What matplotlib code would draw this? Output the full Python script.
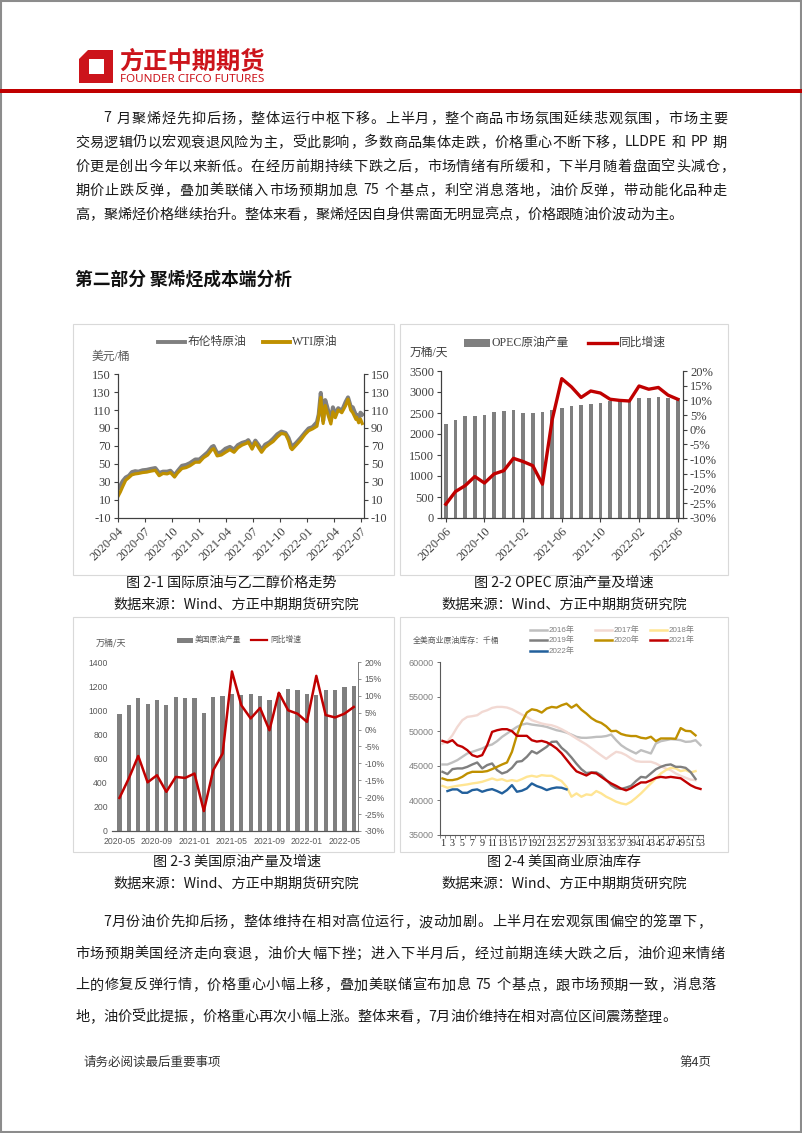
import matplotlib
matplotlib.use('Agg')
import matplotlib.pyplot as plt
import matplotlib.dates as mdates
from matplotlib import font_manager
from matplotlib.patches import Rectangle, Polygon
from matplotlib.ticker import FuncFormatter
import numpy as np
import pandas as pd

W, H = 802, 1133

installed = {f.name for f in font_manager.fontManager.ttflist}

CJK = ['Noto Sans CJK SC', 'DejaVu Sans']
SERIF = ['Liberation Serif', 'Noto Sans CJK SC', 'DejaVu Sans']
if 'Liberation Sans Narrow' in installed:
    NARROW = ['Liberation Sans Narrow', 'Noto Sans CJK SC', 'DejaVu Sans']
else:
    NARROW = ['Liberation Sans', 'Noto Sans CJK SC', 'DejaVu Sans']

plt.rcParams['font.family'] = SERIF
plt.rcParams['axes.unicode_minus'] = False

# ---------------- text ----------------
para1 = [
    "7 月聚烯烃先抑后扬，整体运行中枢下移。上半月，整个商品市场氛围延续悲观氛围，市场主要",
    "交易逻辑仍以宏观衰退风险为主，受此影响，多数商品集体走跌，价格重心不断下移，LLDPE 和 PP 期",
    "价更是创出今年以来新低。在经历前期持续下跌之后，市场情绪有所缓和，下半月随着盘面空头减仓，",
    "期价止跌反弹，叠加美联储入市场预期加息 75 个基点，利空消息落地，油价反弹，带动能化品种走",
    "高，聚烯烃价格继续抬升。整体来看，聚烯烃因自身供需面无明显亮点，价格跟随油价波动为主。",
]
para2 = [
    "7月份油价先抑后扬，整体维持在相对高位运行，波动加剧。上半月在宏观氛围偏空的笼罩下，",
    "市场预期美国经济走向衰退，油价大幅下挫；进入下半月后，经过前期连续大跌之后，油价迎来情绪",
    "上的修复反弹行情，价格重心小幅上移，叠加美联储宣布加息 75 个基点，跟市场预期一致，消息落",
    "地，油价受此提振，价格重心再次小幅上涨。整体来看，7月油价维持在相对高位区间震荡整理。",
]
heading = "第二部分 聚烯烃成本端分析"
captions = ["图 2-1 国际原油与乙二醇价格走势", "图 2-2 OPEC 原油产量及增速",
            "图 2-3 美国原油产量及增速", "图 2-4 美国商业原油库存"]
source = "数据来源：Wind、方正中期期货研究院"

# ---------------- chart 1: Brent / WTI ----------------
oil_dates = ['2020-04-22', '2020-04-30', '2020-05-08', '2020-05-18', '2020-05-29', '2020-06-08',
             '2020-06-19', '2020-06-30', '2020-07-14', '2020-07-28', '2020-08-10', '2020-08-26',
             '2020-09-08', '2020-09-21', '2020-10-05', '2020-10-16', '2020-10-30', '2020-11-09',
             '2020-11-24', '2020-12-08', '2020-12-21', '2021-01-08', '2021-01-22', '2021-02-05',
             '2021-02-19', '2021-03-05', '2021-03-11', '2021-03-23', '2021-04-06', '2021-04-20',
             '2021-05-05', '2021-05-19', '2021-06-01', '2021-06-15', '2021-06-30', '2021-07-06',
             '2021-07-19', '2021-07-30', '2021-08-10', '2021-08-20', '2021-09-01', '2021-09-15',
             '2021-09-28', '2021-10-12', '2021-10-26', '2021-11-09', '2021-11-19', '2021-11-26',
             '2021-12-01', '2021-12-15', '2021-12-30', '2022-01-14', '2022-01-26', '2022-02-08',
             '2022-02-23', '2022-03-01', '2022-03-08', '2022-03-16', '2022-03-23', '2022-03-30',
             '2022-04-11', '2022-04-18', '2022-04-26', '2022-05-06', '2022-05-18', '2022-05-31',
             '2022-06-08', '2022-06-17', '2022-06-24', '2022-07-05', '2022-07-07', '2022-07-14',
             '2022-07-20', '2022-07-26']
brent = [22, 26, 31, 35, 37, 41, 42, 41.5, 43, 43.5,
         44.5, 45.5, 40, 41.5, 41.5, 42.5, 37.5, 42, 48, 49,
         51, 55, 55, 59, 63, 69, 70, 62, 63, 67,
         69, 66, 71, 73.5, 75, 76.5, 69, 76, 71, 65.5,
         71.5, 74, 78, 83, 86, 84.5, 79, 72.5, 69, 73.5,
         79, 85, 89.5, 91, 96.5, 105, 129, 98, 121, 113,
         98.5, 113, 105, 112, 109, 119, 124, 114, 113, 104,
         104.5, 99, 107, 105]
wti = [14, 19, 25, 32, 35, 38, 39, 39.5, 40.5, 41,
       42, 43, 37, 39.5, 39, 40.5, 35.5, 40, 45, 46,
       48, 52, 52, 57, 60, 66, 67, 59, 60, 63,
       66, 63, 68, 71, 73, 74.5, 66.5, 74, 68, 63,
       68.5, 72, 75, 80, 84, 83, 76, 68, 66, 71,
       76.5, 83, 87, 89, 92, 103, 124, 95, 115, 107,
       94.5, 108, 101.5, 110, 107, 115, 122, 110, 107, 99.5,
       102, 95.8, 100, 95]

# ---------------- chart 2: OPEC ----------------
opec_months = list(pd.date_range('2020-06', periods=25, freq='MS').strftime('%Y-%m'))
opec_prod = [2236, 2330, 2425, 2418, 2450, 2512, 2544, 2560, 2497, 2505, 2520, 2567, 2615,
             2662, 2686, 2725, 2750, 2789, 2805, 2820, 2860, 2852, 2876, 2852, 2860]
opec_yoy = [-25.3, -21.0, -19.0, -15.9, -18.1, -15.0, -13.9, -9.7, -10.8, -12.2, -18.5, 3.3,
            17.4, 14.6, 11.0, 13.2, 12.5, 10.4, 10.0, 9.8, 14.9, 13.8, 14.4, 11.8, 10.4]

# ---------------- chart 3: US output ----------------
us_months = list(pd.date_range('2020-05', periods=26, freq='MS').strftime('%Y-%m'))
us_prod = [970, 1045, 1100, 1055, 1085, 1045, 1110, 1105, 1105, 980, 1110, 1120, 1135,
           1125, 1135, 1120, 1085, 1145, 1180, 1165, 1135, 1130, 1170, 1165, 1190, 1205]
us_yoy = [-20.2, -14.4, -7.8, -15.6, -13.5, -18.4, -14.0, -14.3, -13.0, -24.1, -12.0, -7.1,
          17.2, 7.2, 3.3, 6.4, -0.2, 10.9, 5.7, 4.7, 2.3, 15.9, 4.3, 3.6, 4.7, 6.7]

# ---------------- chart 4: US commercial stocks (weekly) ----------------
inv_years = ['2016年', '2017年', '2018年', '2019年', '2020年', '2021年', '2022年']
inv_2016 = [45190, 45190, 45480, 45820, 46300, 46780, 47020, 47260, 47500, 47880,
            48080, 48560, 49180, 49660, 50140, 50620, 50960, 51110, 50960, 50860,
            50770, 50620, 50380, 50140, 50000, 49800, 49500, 49180, 49050, 49040,
            49100, 49180, 49200, 49300, 49520, 48700, 47980, 47500, 47120, 46780,
            47260, 47020, 46780, 48220, 48560, 48700, 48850, 48800, 48700, 48460,
            48500, 48700, 47980]
inv_2017 = [48200, 48500, 49420, 50620, 51590, 52070, 52170, 52310, 52790, 53030,
            53370, 53510, 53510, 53420, 53170, 52790, 52400, 52070, 51590, 51350,
            51110, 50960, 50860, 50620, 50290, 49900, 49400, 48940, 48500, 48080,
            47550, 47020, 46500, 46000, 46540, 47020, 46880, 46540, 46060, 45680,
            45580, 45580, 45580, 45340, 44950, 44610, 44370, 43890, 43560, 43270,
            43000, 42930]
inv_2018 = [42100, 41830, 41970, 42110, 42210, 42310, 42450, 42550, 42690, 42930,
            43170, 42930, 43070, 42790, 42930, 42790, 43070, 43410, 43560, 43410,
            43650, 43560, 43560, 43170, 42790, 41970, 40530, 41010, 40530, 40870,
            40770, 41350, 41010, 40530, 40190, 39810, 39570, 39420, 39800, 40380,
            41010, 41730, 42450, 43170, 43890, 44370, 44710, 44620, 44230, 44380,
            44040, 44230]
inv_2019 = [44130, 43800, 44520, 44620, 44620, 44850, 45190, 45480, 44620, 45100,
            45340, 44370, 43890, 44130, 44710, 45580, 45680, 46300, 47120, 46780,
            47260, 47740, 48460, 48500, 47600, 47000, 46200, 45300, 44500, 43950,
            44050, 44050, 43650, 42950, 42200, 41750, 41650, 41850, 42100, 42800,
            43400, 43300, 43900, 44500, 44850, 45100, 45200, 44850, 44850, 44700,
            44100, 43100]
inv_2020 = [43170, 42930, 42930, 43080, 43410, 43890, 44130, 44130, 44130, 44230,
            44520, 44850, 45190, 45480, 47020, 49420, 51350, 52690, 53170, 53030,
            52690, 53270, 53510, 53410, 53750, 53990, 53400, 53850, 53100, 52550,
            51900, 51450, 51200, 50700, 50000, 50050, 49600, 49400, 49300, 49300,
            49050, 48950, 49200, 48560, 48950, 48950, 48950, 48900, 50450, 50050,
            50000, 49400]
inv_2021 = [48600, 48360, 48700, 47980, 47740, 47260, 46540, 46300, 46540, 47980,
            49900, 50140, 50290, 50290, 50000, 49330, 49330, 49330, 48700, 48500,
            48600, 48400, 48000, 47500, 46800, 45900, 45000, 44200, 43900, 43600,
            44000, 43900, 43400, 42900, 42450, 42100, 41700, 41450, 41750, 42200,
            42600, 42600, 42900, 43250, 43400, 43300, 43400, 43300, 43200, 42700,
            42200, 41850, 41650]
inv_2022 = [None, 41350, 41590, 41590, 41100, 41100, 41490, 41590, 41250, 41490,
            41630, 41350, 41010, 41490, 42210, 41250, 41400, 41730, 42450, 42070,
            41830, 41490, 41730, 41870, 41830, 41590]
inv_series = [inv_2016, inv_2017, inv_2018, inv_2019, inv_2020, inv_2021, inv_2022]
inv_colors = ['#bfbfbf', '#f2d9d3', '#ffe593', '#7f7f7f', '#bf9000', '#c00000', '#22609c']
week_labels = [str(w) for w in range(1, 54, 2)]


def rect(l, t, r, b):
    return [l / W, 1 - b / H, (r - l) / W, (b - t) / H]


fig = plt.figure(figsize=(W / 100, H / 100), dpi=100)
bg = fig.add_axes([0, 0, 1, 1])
bg.set_xlim(0, W)
bg.set_ylim(H, 0)
bg.axis('off')
renderer = fig.canvas.get_renderer()

# page frame
bg.add_patch(Rectangle((0.8, 0.8), W - 1.6, H - 1.6, fill=False, ec='#8c8c8c', lw=1.5))

# logo
red = '#cc141b'
bg.add_patch(Polygon([(88, 50), (113, 50), (113, 83), (79, 83), (79, 59)], color=red, lw=0))
bg.add_patch(Polygon([(89, 59), (104, 59), (104, 74), (89, 74)], color='white', lw=0))
bg.text(119, 61, "方正中期期货", fontsize=17.5, weight='bold', color=red, family=CJK,
        va='center', ha='left')
bg.text(120, 79, "FOUNDER CIFCO FUTURES", fontsize=8.4, weight='bold', color=red,
        family=['Noto Sans', 'DejaVu Sans'], va='center', ha='left')
bg.add_patch(Rectangle((0, 88.5), W, 4.5, color='#c00000', lw=0))


def split_tokens(s):
    out, buf = [], ''
    for ch in s:
        if ch.isascii() and ch != ' ':
            buf += ch
        else:
            if buf:
                out.append(buf)
                buf = ''
            out.append(ch)
    if buf:
        out.append(buf)
    return out


def text_line(s, x0, x1, y, size, justify=True):
    toks = split_tokens(s)
    arts, widths = [], []
    for t in toks:
        if t == ' ':
            arts.append(None)
            widths.append(size * 100 / 72 * 0.3)
            continue
        a = bg.text(0, y, t, fontsize=size, family=CJK, color='#1a1a1a', va='center', ha='left')
        widths.append(a.get_window_extent(renderer).width)
        arts.append(a)
    gap = (x1 - x0 - sum(widths)) / (len(toks) - 1) if justify else 0.0
    x = x0
    for a, w in zip(arts, widths):
        if a is not None:
            a.set_x(x)
        x += w + gap


body_size = 10.2
p1_ends = [727, 727, 734, 727, None]
for i, (line, end) in enumerate(zip(para1, p1_ends)):
    x0 = 103 if i == 0 else 75
    text_line(line, x0, end if end else 0, 118.5 + 24 * i, body_size, justify=end is not None)

bg.text(75, 280, heading, fontsize=12.8, weight='bold', family=CJK, va='center', ha='left',
        color='#111111')

p2_ends = [711, 725, 716, None]
for i, (line, end) in enumerate(zip(para2, p2_ends)):
    x0 = 103 if i == 0 else 75
    text_line(line, x0, end if end else 0, 922 + 31.7 * i, body_size, justify=end is not None)

bg.text(84, 1062, "请务必阅读最后重要事项", fontsize=9, family=CJK, va='center', ha='left',
        color='#333333')
bg.text(711, 1062, "第4页", fontsize=9, family=CJK, va='center', ha='right', color='#333333')

# chart boxes
for (l, t, r, b) in [(73, 324, 394, 575), (400, 324, 728, 575), (73, 617, 394, 852), (400, 617, 728, 852)]:
    bg.add_patch(Rectangle((l, t), r - l, b - t, fill=False, ec='#d9d9d9', lw=0.8))

for cx, cy, txt in [(231, 583, captions[0]), (564, 583, captions[1]),
                    (237, 862, captions[2]), (564, 862, captions[3])]:
    bg.text(cx, cy, txt, fontsize=10.2, family=CJK, va='center', ha='center', color='#1a1a1a')
for cx, cy in [(236, 605), (564, 605), (236, 884), (564, 884)]:
    bg.text(cx, cy, source, fontsize=10.2, family=CJK, va='center', ha='center', color='#1a1a1a')

AX = '#404040'

# ---------------- chart 1 ----------------
ax1 = fig.add_axes(rect(118, 374, 364, 518))
d = pd.to_datetime(oil_dates)
ax1.plot(d, brent, color='#7f7f7f', lw=2.9, solid_joinstyle='round')
ax1.plot(d, wti, color='#bf9000', lw=2.3, solid_joinstyle='round')
ax1.set_xlim(pd.Timestamp('2020-04-22'), pd.Timestamp('2022-08-01'))
ax1.set_ylim(-10, 150)
ax1.set_yticks(range(-10, 151, 20))
ax1.set_xticks(pd.date_range('2020-04-22', periods=10, freq=pd.DateOffset(months=3)))
ax1.xaxis.set_major_formatter(mdates.DateFormatter('%Y-%m'))
ax1r = ax1.twinx()
ax1r.set_ylim(-10, 150)
ax1r.set_yticks(range(-10, 151, 20))
for a in (ax1, ax1r):
    a.set_facecolor('none')
    a.spines['top'].set_visible(False)
    for s in ('left', 'right', 'bottom'):
        a.spines[s].set_color(AX)
        a.spines[s].set_linewidth(0.8)
    a.tick_params(direction='out', length=3, width=0.8, color=AX, labelsize=9, labelcolor='#404040', pad=2)
plt.setp(ax1.get_xticklabels(), rotation=45, ha='right', rotation_mode='anchor')
bg.plot([158, 185], [342, 342], color='#7f7f7f', lw=2.8)
bg.text(188, 342, "布伦特原油", fontsize=8.5, color='#404040', va='center', ha='left')
bg.plot([263, 290], [342, 342], color='#bf9000', lw=2.8)
bg.text(292, 342, "WTI原油", fontsize=8.5, color='#404040', va='center', ha='left')
bg.text(92, 357, "美元/桶", fontsize=8.5, color='#595959', va='center', ha='left')

# ---------------- chart 2 ----------------
ax2 = fig.add_axes(rect(441, 371, 683, 518))
x2 = np.arange(len(opec_prod))
ax2.bar(x2, opec_prod, width=0.38, color='#7f7f7f')
ax2.set_xlim(-0.5, len(opec_prod) - 0.45)
ax2.set_ylim(0, 3500)
ax2.set_yticks(range(0, 3501, 500))
ax2.set_xticks(x2[::4])
ax2.set_xticklabels(opec_months[::4], rotation=45, ha='right', rotation_mode='anchor')
ax2r = ax2.twinx()
ax2r.plot(x2, opec_yoy, color='#c00000', lw=2.4, solid_joinstyle='round')
ax2r.set_ylim(-30, 20)
ax2r.set_yticks(range(-30, 21, 5))
ax2r.yaxis.set_major_formatter(FuncFormatter(lambda v, p: f'{int(v)}%'))
for a in (ax2, ax2r):
    a.set_facecolor('none')
    a.spines['top'].set_visible(False)
    for s in ('left', 'right', 'bottom'):
        a.spines[s].set_color(AX)
        a.spines[s].set_linewidth(0.8)
    a.tick_params(direction='out', length=3, width=0.8, color=AX, labelsize=9, labelcolor='#404040', pad=2)
bg.add_patch(Rectangle((464, 339), 26, 8, color='#7f7f7f', lw=0))
bg.text(492, 343, "OPEC原油产量", fontsize=8.5, color='#404040', va='center', ha='left')
bg.plot([588, 617], [343, 343], color='#c00000', lw=2.4)
bg.text(619, 343, "同比增速", fontsize=8.5, color='#404040', va='center', ha='left')
bg.text(410, 353, "万桶/天", fontsize=8.5, color='#404040', va='center', ha='left')

# ---------------- chart 3 ----------------
ax3 = fig.add_axes(rect(112, 662, 358, 831))
x3 = np.arange(len(us_prod))
ax3.bar(x3, us_prod, width=0.45, color='#7f7f7f')
ax3.set_xlim(-0.8, len(us_prod) - 0.55)
ax3.set_ylim(0, 1400)
ax3.set_yticks(range(0, 1401, 200))
ax3.set_xticks(x3[::4])
ax3.set_xticklabels(us_months[::4])
ax3r = ax3.twinx()
ax3r.plot(x3, us_yoy, color='#c00000', lw=1.8, solid_joinstyle='round')
ax3r.set_ylim(-30, 20)
ax3r.set_yticks(range(-30, 21, 5))
ax3r.yaxis.set_major_formatter(FuncFormatter(lambda v, p: f'{int(v)}%'))
for a in (ax3, ax3r):
    a.set_facecolor('none')
    a.spines['top'].set_visible(False)
    a.spines['left'].set_visible(False)
    a.spines['right'].set_color('#7f7f7f')
    a.spines['right'].set_linewidth(0.7)
    a.spines['bottom'].set_color('#595959')
    a.spines['bottom'].set_linewidth(0.8)
    a.tick_params(labelsize=6.2, labelcolor='#595959', pad=2)
    for lbl in a.get_xticklabels() + a.get_yticklabels():
        lbl.set_family(NARROW)
ax3.tick_params(axis='y', length=0, pad=3)
ax3.tick_params(axis='x', length=0, pad=4)
ax3r.tick_params(axis='y', length=2.5, width=0.6, color='#7f7f7f', direction='out')
bg.add_patch(Rectangle((177, 637.5), 16, 5, color='#7f7f7f', lw=0))
bg.text(195, 640, "美国原油产量", fontsize=5.6, color='#595959', va='center', ha='left', family=CJK)
bg.plot([251, 267], [640, 640], color='#c00000', lw=1.6)
bg.text(270, 640, "同比增速", fontsize=5.6, color='#595959', va='center', ha='left', family=CJK)
bg.text(96, 643, "万桶/天", fontsize=6.5, color='#595959', va='center', ha='left', family=CJK)

# ---------------- chart 4 ----------------
ax4 = fig.add_axes(rect(440, 662, 703, 835))
for vals, col in zip(inv_series, inv_colors):
    v = np.array([np.nan if z is None else z for z in vals], dtype=float)
    ax4.plot(np.arange(1, len(v) + 1), v, color=col, lw=1.7, solid_joinstyle='round')
ax4.set_xlim(0.5, 53.5)
ax4.set_ylim(35000, 60000)
ax4.set_yticks(range(35000, 60001, 5000))
ax4.set_xticks(range(1, 54, 2))
ax4.set_xticklabels(week_labels)
ax4.set_xticks(np.arange(0.5, 54, 1), minor=True)
ax4.set_facecolor('none')
for s in ('top', 'right'):
    ax4.spines[s].set_visible(False)
for s in ('left', 'bottom'):
    ax4.spines[s].set_color('#595959')
    ax4.spines[s].set_linewidth(0.8)
ax4.tick_params(axis='x', which='major', length=0, labelsize=7.2, labelcolor='#262626', pad=3)
ax4.tick_params(axis='x', which='minor', length=2, width=0.5, color='#595959', direction='out')
ax4.tick_params(axis='y', length=2.5, width=0.6, color='#595959', labelsize=6.5,
                labelcolor='#7f7f7f', pad=2)
for lbl in ax4.get_yticklabels():
    lbl.set_family(NARROW)
bg.text(413, 640, "全美商业原油库存：千桶", fontsize=5.7, color='#595959', va='center',
        ha='left', family=CJK)
leg_pos = [(530, 630), (595, 630), (650, 630), (530, 640), (595, 640), (650, 640), (530, 651)]
for (lx, ly), name, col in zip(leg_pos, inv_years, inv_colors):
    bg.plot([lx, lx + 17], [ly, ly], color=col, lw=1.8)
    bg.text(lx + 19, ly, name, fontsize=5.8, color='#7f7f7f', va='center', ha='left', family=NARROW)

fig.savefig('out.png', dpi=100)
